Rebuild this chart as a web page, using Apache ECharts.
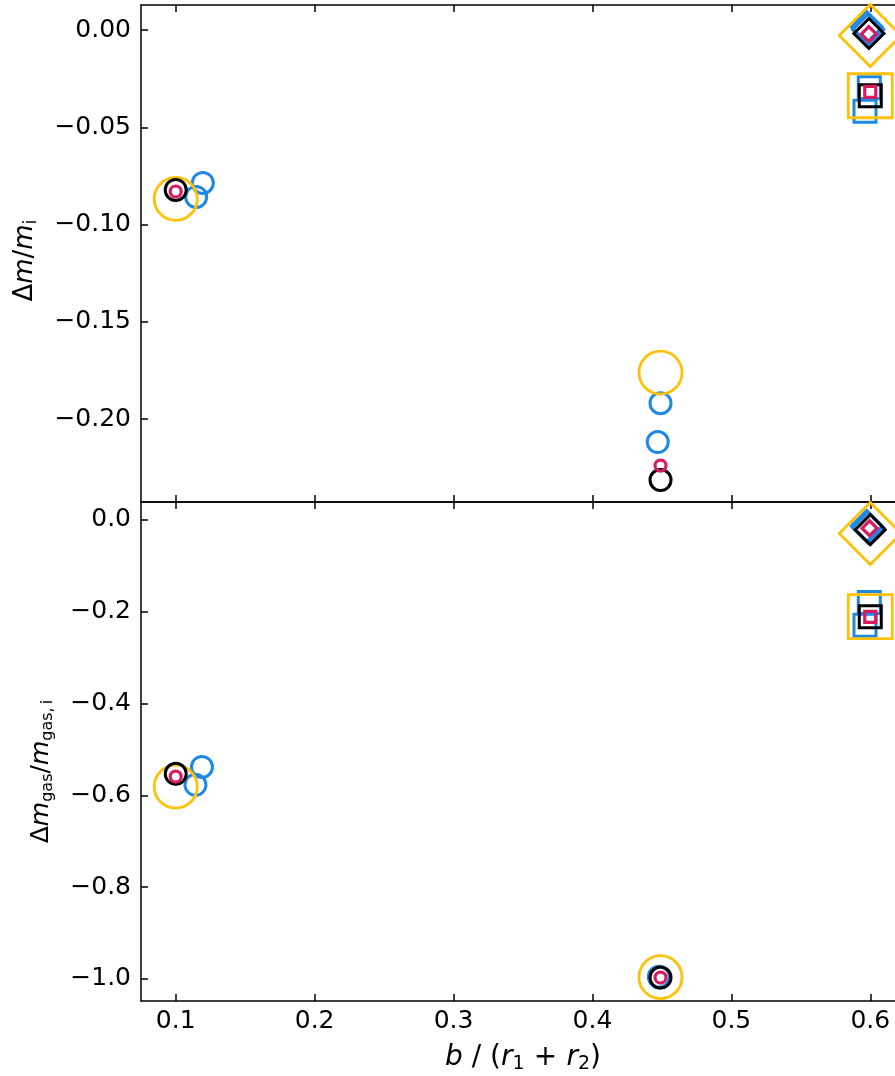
<!DOCTYPE html>
<html>
<head>
<meta charset="utf-8">
<script src="https://cdn.jsdelivr.net/npm/echarts@6/dist/echarts.min.js"></script>
<style>
  html, body { margin: 0; padding: 0; background: #fff; }
  #chart { width: 895px; height: 1076px; }
</style>
</head>
<body>
<div id="chart"></div>
<script>
// Impact parameter ticks and value ticks
const xTicks = [0.1, 0.2, 0.3, 0.4, 0.5, 0.6];
const yTicksMass = [0, -0.05, -0.10, -0.15, -0.20];
const yTicksGas = [0, -0.2, -0.4, -0.6, -0.8, -1.0];

// Upper panel: total mass change, [b/(r1+r2), Δm/m_i]
const massYellowCircle = [[0.1, -0.0868], [0.449, -0.1761]];
const massBlueCircle = [[0.1195, -0.0786], [0.1147, -0.0858], [0.449, -0.1918], [0.447, -0.2118]];
const massBlackCircle = [[0.1, -0.0822], [0.449, -0.2313]];
const massRedCircle = [[0.1, -0.0830], [0.449, -0.2239]];
const massYellowDiamond = [[0.6, -0.0028]];
const massBlueDiamond = [[0.5975, 0.0015], [0.5985, 0.0001]];
const massBlackDiamond = [[0.599, -0.0018]];
const massRedDiamond = [[0.599, -0.0021]];
const massYellowSquare = [[0.6, -0.0338]];
const massBlueSquare = [[0.5993, -0.0297], [0.5962, -0.0418]];
const massBlackSquare = [[0.6, -0.0338]];
const massRedSquare = [[0.6, -0.0318]];

// Lower panel: gas mass change, [b/(r1+r2), Δm_gas/m_gas,i]
const gasYellowCircle = [[0.1, -0.581], [0.449, -0.996]];
const gasBlueCircle = [[0.1189, -0.538], [0.1142, -0.577], [0.4478, -0.995], [0.4482, -0.997]];
const gasBlackCircle = [[0.1, -0.553], [0.449, -0.997]];
const gasRedCircle = [[0.1, -0.559], [0.449, -0.997]];
const gasYellowDiamond = [[0.6, -0.0294]];
const gasBlueDiamond = [[0.5975, -0.013], [0.5985, -0.017]];
const gasBlackDiamond = [[0.6, -0.021]];
const gasRedDiamond = [[0.5995, -0.018]];
const gasYellowSquare = [[0.6, -0.2107]];
const gasBlueSquare = [[0.5993, -0.180], [0.5962, -0.2294]];
const gasBlackSquare = [[0.6, -0.2107]];
const gasRedSquare = [[0.6, -0.2113]];

const YELLOW = '#FFC107', BLUE = '#1E88E5', BLACK = '#000000', RED = '#D81B60';
const FONT = 'DejaVu Sans';

const fmt = d => v => (Math.abs(v) < 1e-9 ? (0).toFixed(d) : (v < 0 ? '\u2212' : '') + Math.abs(v).toFixed(d));

function marks(data, panel, symbol, size, color, width, z) {
  return {
    type: 'scatter',
    xAxisIndex: panel,
    yAxisIndex: panel,
    data: data,
    symbol: symbol,
    symbolSize: size,
    clip: false,
    silent: true,
    z: z,
    itemStyle: { color: 'rgba(0,0,0,0)', borderColor: color, borderWidth: width, opacity: 1 }
  };
}

const series = [];
[
  [0, massYellowCircle, massBlueCircle, massBlackCircle, massRedCircle,
      massYellowDiamond, massBlueDiamond, massBlackDiamond, massRedDiamond,
      massYellowSquare, massBlueSquare, massBlackSquare, massRedSquare],
  [1, gasYellowCircle, gasBlueCircle, gasBlackCircle, gasRedCircle,
      gasYellowDiamond, gasBlueDiamond, gasBlackDiamond, gasRedDiamond,
      gasYellowSquare, gasBlueSquare, gasBlackSquare, gasRedSquare]
].forEach(([p, yc, bc, kc, rc, yd, bd, kd, rd, ys, bs, ks, rs]) => {
  series.push(marks(bc, p, 'circle', 21, BLUE, 3, 2));
  series.push(marks(yc, p, 'circle', 43, YELLOW, 2.8, 3));
  series.push(marks(kc, p, 'circle', 21, BLACK, 3, 4));
  series.push(marks(rc, p, 'circle', 11, RED, 3.2, 5));
  series.push(marks(bd, p, 'diamond', 31, BLUE, 3, 2));
  series.push(marks(yd, p, 'diamond', 62, YELLOW, 2.8, 3));
  series.push(marks(kd, p, 'diamond', 30, BLACK, 3, 4));
  series.push(marks(rd, p, 'diamond', 15, RED, 3.2, 5));
  series.push(marks(bs, p, 'rect', 22, BLUE, 3, 2));
  series.push(marks(ys, p, 'rect', 44, YELLOW, 2.8, 3));
  series.push(marks(ks, p, 'rect', 22, BLACK, 3, 4));
  series.push(marks(rs, p, 'rect', 11, RED, 3.2, 5));
});

const axisLine = { show: true, onZero: false, lineStyle: { color: '#000', width: 1.5 } };
const tick = vals => ({ show: true, inside: true, length: 7, customValues: vals, lineStyle: { color: '#000', width: 1.5 } });
const labelStyle = { color: '#000', fontFamily: FONT, fontSize: 25 };

function titleStyle(size, subSize, padding) {
  return {
    color: '#000', fontFamily: FONT, fontSize: size,
    padding: padding,
    rich: {
      it: { fontFamily: FONT, fontSize: size, fontStyle: 'italic', color: '#000', lineHeight: 40 },
      n: { fontFamily: FONT, fontSize: size, color: '#000', lineHeight: 40 },
      sub: { fontFamily: FONT, fontSize: subSize, color: '#000', lineHeight: 18, padding: [13, 0, 0, 0] }
    }
  };
}

function xAxis(grid, position, withLabels) {
  return {
    type: 'value', gridIndex: grid, position: position,
    min: 0.075, max: 0.625,
    axisLine: axisLine,
    axisTick: tick(xTicks),
    axisLabel: withLabels
      ? Object.assign({ show: true, customValues: xTicks, margin: 8, formatter: fmt(1) }, labelStyle)
      : { show: false },
    splitLine: { show: false },
    name: withLabels ? '{it|b}{n| / (}{it|r}{sub|1}{n|\u2004+\u2004}{it|r}{sub|2}{n|)}' : '',
    nameLocation: 'middle',
    nameGap: 37,
    nameTextStyle: titleStyle(28, 19, [0, 0, 0, 0])
  };
}

function yAxis(grid, min, max, ticks, digits, name, gap, size, subSize, padding) {
  return {
    type: 'value', gridIndex: grid, position: 'left',
    min: min, max: max,
    axisLine: axisLine,
    axisTick: tick(ticks),
    axisLabel: Object.assign({ show: true, customValues: ticks, margin: 10, formatter: fmt(digits) }, labelStyle),
    splitLine: { show: false },
    name: name,
    nameLocation: 'middle',
    nameGap: gap,
    nameRotate: 90,
    nameTextStyle: titleStyle(size, subSize, padding)
  };
}

const option = {
  animation: false,
  backgroundColor: '#fff',
  grid: [
    { left: 141, top: 5, width: 764, height: 497, outerBoundsMode: 'none' },
    { left: 141, top: 502, width: 764, height: 499, outerBoundsMode: 'none' }
  ],
  xAxis: [
    xAxis(0, 'bottom', false),
    xAxis(1, 'bottom', true),
    xAxis(0, 'top', false),
    xAxis(1, 'top', false)
  ],
  yAxis: [
    yAxis(0, -0.2426, 0.01285, yTicksMass, 2, '{n|\u0394}{it|m}{n|/}{it|m}{sub|i}', 96, 26, 18, [0, 14, 0, 0]),
    yAxis(1, -1.048, 0.0392, yTicksGas, 1, '{n|\u0394}{it|m}{sub|gas}{n|/}{it|m}{sub|gas,\u2009i}', 80, 25, 16, [0, 40, 0, 0])
  ],
  series: series
};

const chart = echarts.init(document.getElementById('chart'), null, { renderer: 'canvas' });
chart.setOption(option);
</script>
</body>
</html>
